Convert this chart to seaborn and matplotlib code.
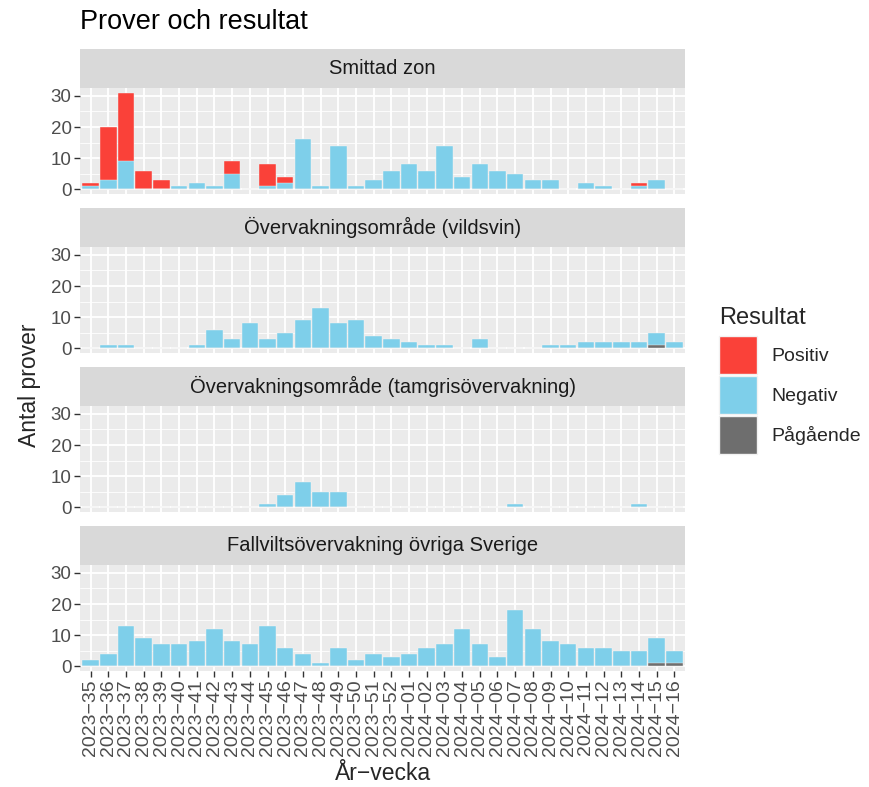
import numpy as np
import pandas as pd
import matplotlib
matplotlib.use("Agg")
import matplotlib.pyplot as plt
import seaborn as sns
from matplotlib.patches import Patch

# week categories (x axis)
weeks = ["2023-35", "2023-36", "2023-37", "2023-38", "2023-39", "2023-40",
         "2023-41", "2023-42", "2023-43", "2023-44", "2023-45", "2023-46",
         "2023-47", "2023-48", "2023-49", "2023-50", "2023-51", "2023-52",
         "2024-01", "2024-02", "2024-03", "2024-04", "2024-05", "2024-06",
         "2024-07", "2024-08", "2024-09", "2024-10", "2024-11", "2024-12",
         "2024-13", "2024-14", "2024-15", "2024-16"]

facets = ["Smittad zon",
          "Övervakningsområde (vildsvin)",
          "Övervakningsområde (tamgrisövervakning)",
          "Fallviltsövervakning övriga Sverige"]

results = ["Positiv", "Negativ", "Pågående"]
colors = {"Positiv": "#FA4139", "Negativ": "#7ECFEA", "Pågående": "#6E6E6E"}

# Smittad zon
zon_pos = [1, 17, 22, 6, 3, 0, 0, 0, 4, 0, 7, 2, 0, 0, 0, 0, 0,
           0, 0, 0, 0, 0, 0, 0, 0, 0, 0, 0, 0, 0, 0, 1, 0, 0]
zon_neg = [1, 3, 9, 0, 0, 1, 2, 1, 5, 0, 1, 2, 16, 1, 14, 1, 3,
           6, 8, 6, 14, 4, 8, 6, 5, 3, 3, 0, 2, 1, 0, 1, 3, 0]
zon_pend = [0] * 34

# Övervakningsområde (vildsvin)
vild_pos = [0] * 34
vild_neg = [0, 1, 1, 0, 0, 0, 1, 6, 3, 8, 3, 5, 9, 13, 8, 9, 4,
            3, 2, 1, 1, 0, 3, 0, 0, 0, 1, 1, 2, 2, 2, 2, 4, 2]
vild_pend = [0, 0, 0, 0, 0, 0, 0, 0, 0, 0, 0, 0, 0, 0, 0, 0, 0,
             0, 0, 0, 0, 0, 0, 0, 0, 0, 0, 0, 0, 0, 0, 0, 1, 0]

# Övervakningsområde (tamgrisövervakning)
tam_pos = [0] * 34
tam_neg = [0, 0, 0, 0, 0, 0, 0, 0, 0, 0, 1, 4, 8, 5, 5, 0, 0,
           0, 0, 0, 0, 0, 0, 0, 1, 0, 0, 0, 0, 0, 0, 1, 0, 0]
tam_pend = [0] * 34

# Fallviltsövervakning övriga Sverige
fall_pos = [0] * 34
fall_neg = [2, 4, 13, 9, 7, 7, 8, 12, 8, 7, 13, 6, 4, 1, 6, 2, 4,
            3, 4, 6, 7, 12, 7, 3, 18, 12, 8, 7, 6, 6, 5, 5, 8, 4]
fall_pend = [0, 0, 0, 0, 0, 0, 0, 0, 0, 0, 0, 0, 0, 0, 0, 0, 0,
             0, 0, 0, 0, 0, 0, 0, 0, 0, 0, 0, 0, 0, 0, 0, 1, 1]

panel_data = [(zon_pos, zon_neg, zon_pend),
              (vild_pos, vild_neg, vild_pend),
              (tam_pos, tam_neg, tam_pend),
              (fall_pos, fall_neg, fall_pend)]

sns.set_theme(style="darkgrid")
plt.rcParams['font.family'] = ['Liberation Sans', 'DejaVu Sans']

W, H = 869, 787
fig = plt.figure(figsize=(W / 100, H / 100), dpi=100)

x0, x1 = 80, 685
tick_labels = [w.replace("-", "\u2212") for w in weeks]

for k, (facet, (pos, neg, pend)) in enumerate(zip(facets, panel_data)):
    strip_top = 49 + 159 * k
    strip_bot = strip_top + 39
    pan_bot = strip_bot + 106

    # strip header
    sax = fig.add_axes([x0 / W, 1 - strip_bot / H, (x1 - x0) / W, (strip_bot - strip_top) / H])
    sax.set_facecolor("#D9D9D9")
    sax.set_xticks([])
    sax.set_yticks([])
    for s in sax.spines.values():
        s.set_visible(False)
    sax.text(0.5, 0.5, facet, ha="center", va="center", fontsize=14.5, color="#1A1A1A",
             transform=sax.transAxes)

    ax = fig.add_axes([x0 / W, 1 - pan_bot / H, (x1 - x0) / W, (pan_bot - strip_bot) / H])
    df = pd.DataFrame({"vecka": weeks, "Positiv": pos, "Negativ": neg, "Pågående": pend})
    df["top_pos"] = df["Positiv"] + df["Negativ"] + df["Pågående"]
    df["top_neg"] = df["Negativ"] + df["Pågående"]

    # stacked bars: draw cumulative layers from the top down
    for col, res in [("top_pos", "Positiv"), ("top_neg", "Negativ"), ("Pågående", "Pågående")]:
        sns.barplot(data=df, x="vecka", y=col, order=weeks, color=colors[res],
                    saturation=1, width=0.93, errorbar=None, edgecolor="#F2F2F2",
                    linewidth=0.3, ax=ax, zorder=3)

    ax.set_facecolor("#EBEBEB")
    ax.set_xlim(-0.6, len(weeks) - 0.4)
    ax.set_ylim(-1.55, 32.55)
    ax.set_yticks([0, 10, 20, 30])
    ax.set_yticks([5, 15, 25], minor=True)
    ax.grid(True, which="major", color="white", linewidth=1.3, zorder=0)
    ax.grid(True, which="minor", axis="y", color="white", linewidth=0.6, zorder=0)
    ax.set_axisbelow(True)
    for s in ax.spines.values():
        s.set_visible(False)
    ax.set_xlabel("")
    ax.set_ylabel("")
    ax.tick_params(axis="y", which="major", length=4, width=1, color="#333333",
                   labelsize=13.5, labelcolor="#4D4D4D", pad=2, left=True)
    ax.tick_params(axis="y", which="minor", length=0)
    if k == len(facets) - 1:
        ax.set_xticks(range(len(weeks)))
        ax.set_xticklabels(tick_labels, rotation=90, fontsize=14, color="#4D4D4D")
        ax.tick_params(axis="x", length=4, width=1, color="#333333", pad=2, bottom=True)
    else:
        ax.set_xticks(range(len(weeks)))
        ax.set_xticklabels([])
        ax.tick_params(axis="x", length=0)

fig.text(80 / W, 1 - 22 / H, "Prover och resultat", fontsize=19.5, ha="left", va="center",
         color="black")
fig.text(30 / W, 1 - 385 / H, "Antal prover", fontsize=16.5, rotation=90, ha="center",
         va="center")
fig.text((x0 + x1) / 2 / W, 1 - 773 / H, "År\u2212vecka", fontsize=16.5, ha="center",
         va="center")

handles = [Patch(facecolor=colors[r], edgecolor="#F2F2F2", linewidth=1.0) for r in results]
leg = fig.legend(handles, results, title="Resultat", loc="upper left",
                 bbox_to_anchor=(719 / W, 1 - 307 / H), frameon=False, fontsize=14,
                 title_fontsize=17, handlelength=1.95, handleheight=2.63,
                 labelspacing=0.1, handletextpad=0.75, borderpad=0, borderaxespad=0)
leg._legend_box.align = "left"
leg._legend_box.sep = 5

fig.savefig("out.png", dpi=100)
